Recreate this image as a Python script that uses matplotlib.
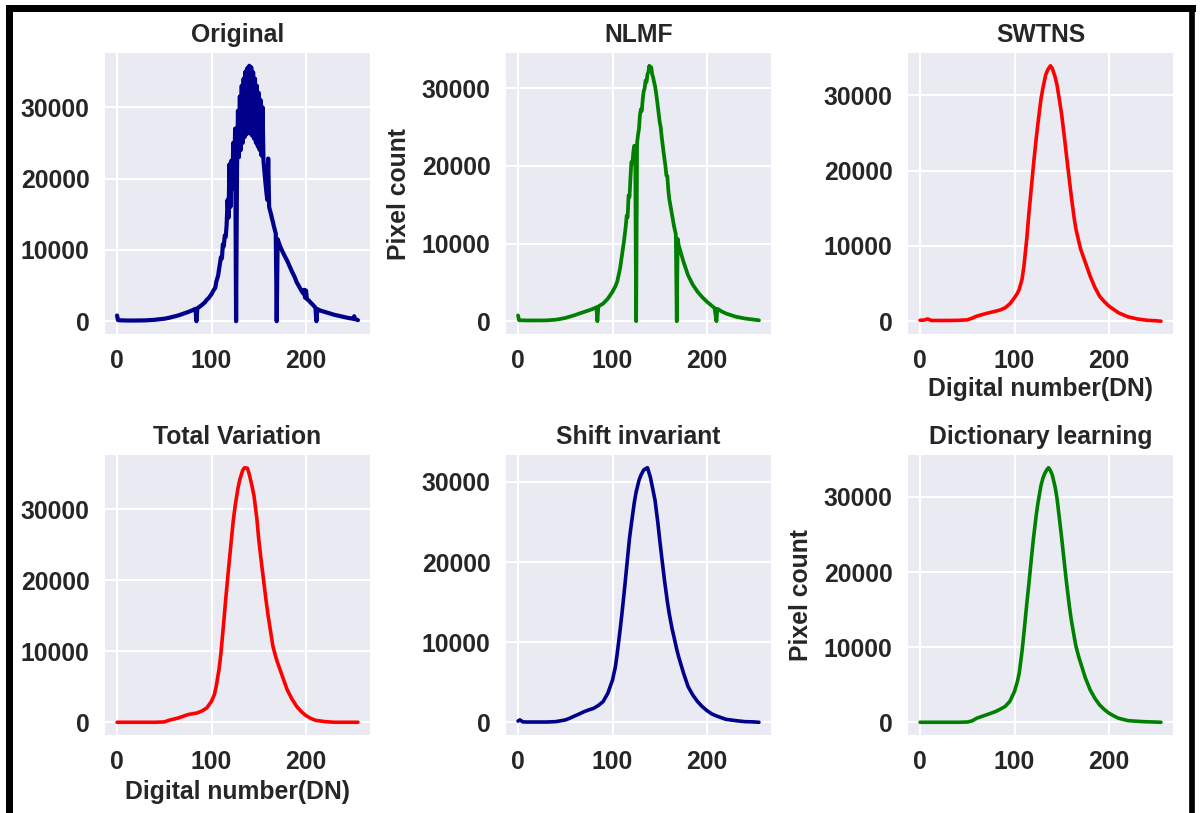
import matplotlib
matplotlib.use("Agg")
import matplotlib.pyplot as plt
from matplotlib.lines import Line2D

plt.rcParams['font.family'] = ['Liberation Sans', 'DejaVu Sans']
plt.rcParams['font.weight'] = 'bold'

# ---------------- data ----------------
orig_x = [0, 1, 5, 10, 20, 30, 40, 45, 50, 55, 60, 65, 70, 75, 80, 83, 84, 85, 88, 90,
          93, 95, 97, 100, 102, 104, 105, 107, 108, 110, 111, 112, 113, 114, 115, 116,
          117, 118, 119, 120, 121, 122, 123, 124, 125, 126, 127, 128, 129, 130, 131, 132,
          133, 134, 135, 136, 137, 138, 139, 140, 141, 142, 143, 144, 145, 146, 147, 148,
          149, 150, 151, 152, 153, 154, 155, 156, 157, 158, 159, 160, 161, 162, 163, 164,
          165, 166, 167, 168, 169, 170, 172, 175, 178, 180, 183, 185, 188, 190, 193, 195,
          197, 198, 199, 200, 201, 203, 205, 208, 210, 211, 212, 215, 220, 225, 230, 235,
          240, 245, 250, 251, 252, 255]
orig_y = [800, 150, 120, 100, 100, 120, 200, 280, 350, 480, 650, 820, 1050, 1280, 1550, 1750, 0, 1800, 2100, 2300,
          2650, 3000, 3250, 3800, 4300, 4700, 5500, 6400, 7300, 9000, 8800, 10800, 10500, 12000, 11800, 13500,
          17000, 14500, 22000, 16000, 22500, 18500, 25000, 20000, 27000, 0, 21500, 29500, 23000, 31500, 24000, 33000,
          25000, 34000, 25800, 35000, 26200, 35500, 26400, 35800, 26300, 35600, 26000, 34900, 25600, 34000, 25000, 33000,
          24500, 32000, 24000, 31000, 23200, 30000, 22500, 21000, 19500, 18200, 17000, 22800, 16000, 15500, 15000, 14400,
          13900, 13300, 12800, 12300, 0, 11500, 10700, 9800, 9000, 8500, 7600, 7000, 6200, 5500, 4800, 4300,
          3900, 4400, 3300, 4300, 3100, 2900, 2600, 2200, 1900, 0, 1700, 1500, 1300, 1100, 900, 750,
          600, 450, 350, 700, 300, 150]

nlmf_x = [0, 1, 10, 20, 30, 40, 45, 50, 55, 60, 65, 70, 75, 80, 83, 84, 85, 90, 95, 100,
          103, 105, 108, 110, 112, 114, 115, 116, 117, 118, 119, 120, 121, 122, 123, 124, 125, 126,
          127, 128, 129, 130, 131, 132, 133, 134, 135, 136, 137, 138, 139, 140, 141, 142, 143, 144,
          145, 146, 147, 148, 149, 150, 151, 152, 153, 154, 155, 156, 157, 158, 159, 160, 162, 164,
          165, 167, 168, 169, 170, 175, 180, 185, 190, 195, 200, 203, 205, 208, 210, 211, 215, 220,
          225, 230, 240, 250, 255]
nlmf_y = [750, 130, 100, 100, 110, 200, 300, 420, 600, 780, 1000, 1200, 1400, 1630, 1800, 0, 1900, 2270, 2900, 3800,
          4500, 5100, 6800, 8500, 10200, 12200, 13600, 13400, 16200, 16000, 18500, 20500, 20300, 21800, 22600, 22400, 0, 23000,
          24000, 24800, 26500, 27300, 27100, 28600, 29600, 30000, 31000, 30800, 31800, 32100, 32900, 32300, 32700, 31800, 31400, 30800,
          30300, 29500, 28600, 27600, 26600, 25600, 25000, 23800, 22800, 21800, 20900, 20000, 18800, 18700, 17000, 15800, 14400, 13000,
          12300, 11200, 0, 10600, 9800, 7700, 5900, 4700, 3800, 3100, 2500, 2200, 2000, 1700, 0, 1600, 1300, 1000,
          800, 600, 350, 200, 120]

swtns_x = [0, 4, 8, 12, 20, 30, 40, 50, 55, 60, 65, 70, 75, 80, 85, 90, 95, 100, 103, 105, 108,
           110, 113, 115, 118, 120, 123, 125, 128, 130, 133, 135, 138, 140, 143, 145, 148, 150,
           153, 155, 158, 160, 163, 165, 168, 170, 175, 180, 185, 190, 195, 200, 210, 220, 230,
           240, 250, 255]
swtns_y = [130, 150, 300, 100, 100, 100, 120, 180, 400, 670, 850, 1030, 1180, 1330, 1500, 1780, 2300, 3120, 3700, 4230, 5600,
           7330, 11000, 14000, 18000, 20670, 24300, 26450, 29500, 30900, 32700, 33330, 33900, 33560, 32400, 31330, 29000, 27330,
           24200, 22000, 18800, 16670, 13800, 12230, 10600, 9560, 7790, 6000, 4500, 3330, 2600, 2000, 1120, 590, 300,
           130, 60, 0]

tv_x = [0, 10, 20, 30, 40, 50, 55, 60, 65, 70, 75, 80, 85, 90, 95, 100, 103, 105, 108, 110,
        113, 115, 118, 120, 123, 125, 128, 130, 133, 135, 138, 140, 143, 145, 148, 150, 153,
        155, 158, 160, 163, 165, 168, 170, 175, 180, 185, 190, 195, 200, 205, 210, 220, 230,
        240, 250, 255]
tv_y = [0, 0, 0, 0, 0, 50, 280, 450, 610, 850, 1080, 1200, 1320, 1600, 2020, 2960, 3900, 5080, 7500, 9780,
        14200, 17300, 21600, 24350, 28400, 30470, 33000, 34230, 35500, 35870, 35800, 34930, 33200, 31870, 28700, 25760, 22300,
        20120, 16900, 14950, 12400, 10720, 9200, 8370, 6490, 4610, 3300, 2260, 1500, 940, 550, 280, 90, 0,
        0, 0, 0]

si_x = [0, 2, 5, 10, 20, 30, 40, 50, 55, 60, 65, 70, 75, 80, 85, 90, 95, 100, 103, 105, 108,
        110, 113, 115, 118, 120, 123, 125, 128, 130, 133, 135, 137, 140, 143, 145, 148, 150, 153,
        155, 158, 160, 163, 165, 168, 170, 175, 180, 185, 190, 195, 200, 205, 210, 220, 230,
        240, 250, 255]
si_y = [150, 300, 50, 30, 30, 30, 80, 290, 520, 790, 1050, 1330, 1550, 1740, 2100, 2580, 3610, 5280, 6900, 8600, 11500,
        13590, 17000, 19400, 23000, 24800, 27400, 28750, 30200, 30830, 31500, 31660, 31780, 30620, 28900, 27710, 24900, 22720, 19700,
        17740, 15100, 13590, 11700, 10680, 9100, 8180, 6200, 4450, 3400, 2580, 1950, 1450, 1050, 790, 370, 210,
        80, 40, 0]

dl_x = [0, 10, 20, 30, 40, 50, 55, 60, 65, 70, 75, 80, 85, 90, 95, 100, 103, 105, 108, 110,
        113, 115, 118, 120, 123, 125, 128, 130, 132, 134, 136, 138, 140, 143, 145, 148, 150, 153,
        155, 158, 160, 163, 165, 168, 170, 175, 180, 185, 190, 195, 200, 205, 210, 220, 235, 255]
dl_y = [0, 0, 0, 0, 0, 30, 180, 540, 760, 980, 1200, 1430, 1750, 2100, 2770, 4110, 5400, 6560, 9500, 11920,
        15800, 18170, 22000, 24420, 27600, 29330, 31500, 32460, 33100, 33570, 33880, 33500, 32900, 31300, 29780, 26600, 24420, 20900,
        18620, 15500, 13700, 11500, 10130, 8700, 7900, 5900, 4330, 3200, 2320, 1700, 1210, 850, 540, 220, 90, 0]

titles = ["Original", "NLMF", "SWTNS", "Total Variation", "Shift invariant", "Dictionary learning"]
series_x = [orig_x, nlmf_x, swtns_x, tv_x, si_x, dl_x]
series_y = [orig_y, nlmf_y, swtns_y, tv_y, si_y, dl_y]
colors = ["#00008B", "#008000", "#FF0000", "#FF0000", "#00008B", "#008000"]
line_widths = [3.0, 2.7, 2.6, 2.6, 2.6, 2.6]
xticks = [0, 100, 200]
yticks = [0, 10000, 20000, 30000]
xlabel_text = "Digital number(DN)"
ylabel_text = "Pixel count"

# ---------------- layout ----------------
W, H = 1200, 813
TXT = "#262626"
FS = 17.8
fig = plt.figure(figsize=(W / 100, H / 100), dpi=100)
fig.patch.set_facecolor("white")

col_left = [105, 506, 908]
ax_w = 265
row_tb = [(53, 334), (455, 735)]

axes = []
for i in range(6):
    r, c = divmod(i, 3)
    t, b = row_tb[r]
    ax = fig.add_axes([col_left[c] / W, (H - b) / H, ax_w / W, (b - t) / H])
    ax.set_facecolor("#EAEAF2")
    for s in ax.spines.values():
        s.set_visible(False)
    ax.grid(True, color="white", lw=1.5)
    ax.set_axisbelow(True)
    ax.plot(series_x[i], series_y[i], color=colors[i], lw=line_widths[i],
            solid_joinstyle="round", solid_capstyle="round")
    ax.set_xticks(xticks)
    ax.set_yticks(yticks)
    ax.tick_params(length=0, pad=11, labelsize=FS, labelcolor=TXT)
    ax.set_title(titles[i], fontsize=FS, fontweight="bold", color=TXT, pad=8)
    axes.append(ax)

# axis labels (placed as in the reference)
fig.text(399 / W, 1 - 194 / H, ylabel_text, rotation=90, ha="center", va="center",
         fontsize=FS, fontweight="bold", color=TXT)
fig.text(801 / W, 1 - 595 / H, ylabel_text, rotation=90, ha="center", va="center",
         fontsize=FS, fontweight="bold", color=TXT)
fig.text(1040.5 / W, 1 - 389 / H, xlabel_text, ha="center", va="center",
         fontsize=FS, fontweight="bold", color=TXT)
fig.text(237.5 / W, 1 - 792 / H, xlabel_text, ha="center", va="center",
         fontsize=FS, fontweight="bold", color=TXT)

# black frame around the figure (bottom edge lies outside the image)
lw_l = 7 * 72 / 100
lw_r = 5.7 * 72 / 100
fig.add_artist(Line2D([8.5 / W, 8.5 / W], [-0.02, 1 - 8.3 / H], color="black", lw=lw_l,
                      transform=fig.transFigure, solid_capstyle="projecting"))
fig.add_artist(Line2D([8.5 / W, 1192 / W], [1 - 8.3 / H, 1 - 8.3 / H], color="black", lw=lw_l,
                      transform=fig.transFigure, solid_capstyle="projecting"))
fig.add_artist(Line2D([1192 / W, 1192 / W], [-0.02, 1 - 8.3 / H], color="black", lw=lw_r,
                      transform=fig.transFigure, solid_capstyle="projecting"))

fig.savefig("out.png", dpi=100)
